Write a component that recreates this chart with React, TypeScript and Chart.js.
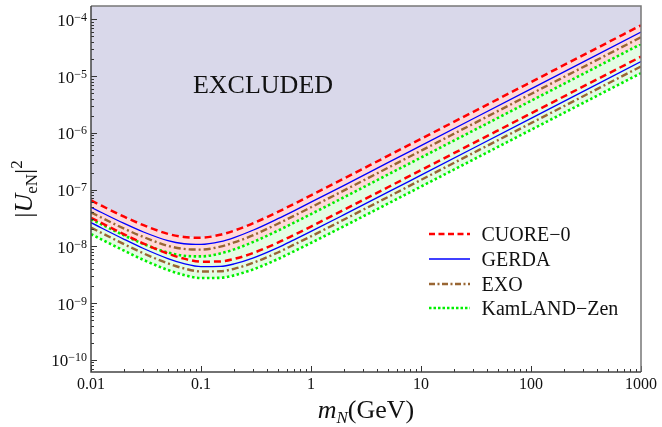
import React, { useEffect, useRef } from "react";
import { Chart, registerables } from "chart.js";

Chart.register(...registerables);

// ---- data (|U_eN|^2 bounds vs m_N in GeV) ----
const massGeV = [0.01, 0.02, 0.03, 0.05, 0.07, 0.1, 0.15, 0.2, 0.3, 0.5, 0.7, 1, 2, 5, 10, 100, 1000];

const cuoreUpper = [6.43e-8, 3.33e-8, 2.36e-8, 1.66e-8, 1.46e-8, 1.42e-8, 1.6e-8, 1.89e-8, 2.56e-8, 4.05e-8, 5.58e-8, 7.91e-8, 1.57e-7, 3.93e-7, 7.85e-7, 7.85e-6, 7.85e-5];
const cuoreLower = [3.19e-8, 1.63e-8, 1.12e-8, 7.45e-9, 6.07e-9, 5.37e-9, 5.42e-9, 5.99e-9, 7.66e-9, 1.16e-8, 1.59e-8, 2.23e-8, 4.42e-8, 1.1e-7, 2.2e-7, 2.2e-6, 2.2e-5];
const gerdaUpper = [4.88e-8, 2.53e-8, 1.79e-8, 1.26e-8, 1.11e-8, 1.08e-8, 1.21e-8, 1.43e-8, 1.94e-8, 3.07e-8, 4.23e-8, 6.0e-8, 1.19e-7, 2.98e-7, 5.96e-7, 5.96e-6, 5.96e-5];
const gerdaLower = [2.61e-8, 1.33e-8, 9.17e-9, 6.1e-9, 4.97e-9, 4.4e-9, 4.44e-9, 4.9e-9, 6.27e-9, 9.49e-9, 1.3e-8, 1.83e-8, 3.62e-8, 9.0e-8, 1.8e-7, 1.8e-6, 1.8e-5];
const exoUpper = [3.96e-8, 2.05e-8, 1.46e-8, 1.02e-8, 9.0e-9, 8.76e-9, 9.87e-9, 1.17e-8, 1.58e-8, 2.5e-8, 3.44e-8, 4.88e-8, 9.68e-8, 2.42e-7, 4.84e-7, 4.84e-6, 4.84e-5];
const exoLower = [2.14e-8, 1.09e-8, 7.52e-9, 5.0e-9, 4.08e-9, 3.61e-9, 3.64e-9, 4.02e-9, 5.14e-9, 7.79e-9, 1.07e-8, 1.5e-8, 2.97e-8, 7.39e-8, 1.48e-7, 1.48e-6, 1.48e-5];
const kamlandUpper = [3.01e-8, 1.56e-8, 1.1e-8, 7.76e-9, 6.83e-9, 6.64e-9, 7.48e-9, 8.84e-9, 1.2e-8, 1.89e-8, 2.61e-8, 3.7e-8, 7.34e-8, 1.84e-7, 3.67e-7, 3.67e-6, 3.67e-5];
const kamlandLower = [1.64e-8, 8.38e-9, 5.76e-9, 3.83e-9, 3.12e-9, 2.76e-9, 2.79e-9, 3.08e-9, 3.94e-9, 5.96e-9, 8.17e-9, 1.15e-8, 2.27e-8, 5.65e-8, 1.13e-7, 1.13e-6, 1.13e-5];

const xTickValues = [0.01, 0.1, 1, 10, 100, 1000];
const xTickLabels = ["0.01", "0.1", "1", "10", "100", "1000"];
const yTickExponents = [-10, -9, -8, -7, -6, -5, -4];
const legendNames = ["CUORE\u22120", "GERDA", "EXO", "KamLAND\u2212Zen"];
const excludedLabel = "EXCLUDED";

const X_MIN = 0.01;
const X_MAX = 1000;
const Y_MIN = 6.1e-11;
const Y_MAX = 1.72e-4;

const SERIF = '"Liberation Serif", "Times New Roman", serif';

const RED = "#ff0000";
const BLUE = "#0000ff";
const BROWN = "#996633";
const GREEN = "#00f000";

const pts = (ys: number[]) => massGeV.map((x, i) => ({ x, y: ys[i] }));

const axesPlugin = {
  id: "axesPlugin",
  afterDraw(chart: any) {
    const { ctx, chartArea: a } = chart;
    const xs = chart.scales.x;
    const ys = chart.scales.y;
    ctx.save();
    ctx.strokeStyle = "#333";
    ctx.lineWidth = 1;
    for (let e = -11; e <= -3; e++) {
      for (let k = 1; k <= 9; k++) {
        const v = k * Math.pow(10, e);
        if (v < Y_MIN || v > Y_MAX) continue;
        const py = Math.round(ys.getPixelForValue(v)) + 0.5;
        const len = k === 1 ? 6 : 3;
        ctx.beginPath();
        ctx.moveTo(a.left, py);
        ctx.lineTo(a.left + len, py);
        ctx.stroke();
      }
    }
    for (let e = -2; e <= 3; e++) {
      for (let k = 1; k <= 9; k++) {
        const v = k * Math.pow(10, e);
        if (v < X_MIN * 0.999 || v > X_MAX * 1.001) continue;
        const px = Math.round(xs.getPixelForValue(v)) + 0.5;
        const len = k === 1 ? 6 : 3;
        ctx.beginPath();
        ctx.moveTo(px, a.bottom);
        ctx.lineTo(px, a.bottom - len);
        ctx.stroke();
      }
    }
    ctx.lineWidth = 1.5;
    ctx.strokeStyle = "#777";
    ctx.beginPath();
    ctx.moveTo(a.left, a.top);
    ctx.lineTo(a.right, a.top);
    ctx.lineTo(a.right, a.bottom);
    ctx.stroke();
    ctx.strokeStyle = "#444";
    ctx.beginPath();
    ctx.moveTo(a.left, a.top);
    ctx.lineTo(a.left, a.bottom);
    ctx.lineTo(a.right, a.bottom);
    ctx.stroke();

    ctx.fillStyle = "#111";
    ctx.textBaseline = "alphabetic";
    yTickExponents.forEach((e) => {
      const py = ys.getPixelForValue(Math.pow(10, e));
      const base = "10";
      const sup = "\u2212" + Math.abs(e);
      ctx.font = `17px ${SERIF}`;
      const wb = ctx.measureText(base).width;
      ctx.font = `12px ${SERIF}`;
      const wsup = ctx.measureText(sup).width;
      const x0 = a.left - 4 - wb - wsup;
      ctx.textAlign = "left";
      ctx.font = `17px ${SERIF}`;
      ctx.fillText(base, x0, py + 6.5);
      ctx.font = `12px ${SERIF}`;
      ctx.fillText(sup, x0 + wb, py + 1.5);
    });
    ctx.font = `16px ${SERIF}`;
    ctx.textAlign = "center";
    xTickValues.forEach((v, i) => {
      const px = xs.getPixelForValue(v);
      ctx.fillText(xTickLabels[i], px, a.bottom + 17);
    });
    ctx.restore();
  },
};

const legendStyles = [
  { color: RED, width: 2.5, dash: "6 3.5" },
  { color: BLUE, width: 1.3, dash: "" },
  { color: BROWN, width: 2.4, dash: "6 2.5 2 2.5" },
  { color: GREEN, width: 2.6, dash: "2.5 2" },
];

export default function App() {
  const canvasRef = useRef<HTMLCanvasElement | null>(null);

  useEffect(() => {
    document.body.style.margin = "0";
    const canvas = canvasRef.current;
    if (!canvas) return;
    const line = (data: number[], color: string, width: number, dash: number[], extra: any = {}) => ({
      data: pts(data),
      borderColor: color,
      borderWidth: width,
      borderDash: dash,
      pointRadius: 0,
      cubicInterpolationMode: "monotone",
      fill: false,
      ...extra,
    });
    const chart = new Chart(canvas, {
      type: "line",
      data: {
        datasets: [
          line(cuoreUpper, RED, 2.5, [7, 4], { fill: "end", backgroundColor: "rgb(217,216,234)" }),
          line(cuoreLower, RED, 2.5, [7, 4], { fill: 0, backgroundColor: "rgba(255,0,0,0.15)" }),
          line(gerdaUpper, BLUE, 1.3, []),
          line(gerdaLower, BLUE, 1.3, []),
          line(exoUpper, BROWN, 2.4, [7, 3, 2, 3]),
          line(exoLower, BROWN, 2.4, [7, 3, 2, 3]),
          line(kamlandUpper, GREEN, 2.6, [2.5, 2.5]),
          line(kamlandLower, GREEN, 2.6, [2.5, 2.5], {
            fill: 6,
            backgroundColor: "rgb(228,252,228)",
            order: -1,
          }),
        ] as any,
      },
      options: {
        responsive: false,
        animation: false,
        devicePixelRatio: 1,
        layout: { padding: { top: 6, right: 21, left: 0, bottom: 0 } },
        plugins: {
          legend: { display: false },
          tooltip: { enabled: false },
          filler: { drawTime: "beforeDatasetsDraw" },
        },
        scales: {
          x: {
            type: "logarithmic",
            min: X_MIN,
            max: X_MAX,
            bounds: "data",
            grid: { display: false },
            border: { display: false },
            ticks: { display: false },
            afterFit(s: any) {
              s.height = 55;
            },
          },
          y: {
            type: "logarithmic",
            min: Y_MIN,
            max: Y_MAX,
            bounds: "data",
            grid: { display: false },
            border: { display: false },
            ticks: { display: false },
            afterFit(s: any) {
              s.width = 91;
            },
          },
        },
      } as any,
      plugins: [axesPlugin],
    });
    return () => chart.destroy();
  }, []);

  const legendBaselines = [240.7, 265.5, 290.3, 315];

  return (
    <div style={{ position: "relative", width: 662, height: 427, fontFamily: SERIF, color: "#111" }}>
      <canvas ref={canvasRef} width={662} height={427} style={{ display: "block" }} />
      <div
        style={{
          position: "absolute",
          left: 263,
          top: 72,
          transform: "translateX(-50%)",
          fontSize: 26,
          lineHeight: "26px",
          whiteSpace: "nowrap",
        }}
      >
        {excludedLabel}
      </div>
      {legendNames.map((name, i) => (
        <React.Fragment key={name}>
          <svg
            style={{ position: "absolute", left: 429, top: legendBaselines[i] - 6.8 - 4 }}
            width={41}
            height={8}
          >
            <line
              x1={0}
              y1={4}
              x2={41}
              y2={4}
              stroke={legendStyles[i].color}
              strokeWidth={legendStyles[i].width}
              strokeDasharray={legendStyles[i].dash || undefined}
            />
          </svg>
          <div
            style={{
              position: "absolute",
              left: 481.5,
              top: legendBaselines[i] - 16.75,
              fontSize: 20,
              lineHeight: "20px",
              whiteSpace: "nowrap",
            }}
          >
            {name}
          </div>
        </React.Fragment>
      ))}
      <div
        style={{
          position: "absolute",
          left: 366,
          top: 396.7,
          transform: "translateX(-50%)",
          fontSize: 26,
          lineHeight: "26px",
          whiteSpace: "nowrap",
        }}
      >
        <i>m</i>
        <sub style={{ fontSize: 17, verticalAlign: "-5px", lineHeight: 0 }}>
          <i>N</i>
        </sub>
        (GeV)
      </div>
      <div
        style={{
          position: "absolute",
          left: 24,
          top: 189,
          width: 200,
          height: 30,
          marginLeft: -100,
          marginTop: -15,
          transform: "rotate(-90deg)",
          textAlign: "center",
          fontSize: 26,
          lineHeight: "30px",
          whiteSpace: "nowrap",
        }}
      >
        |<i>U</i>
        <sub style={{ fontSize: 17, verticalAlign: "-5px", lineHeight: 0 }}>eN</sub>|
        <sup style={{ fontSize: 17, verticalAlign: "10px", lineHeight: 0 }}>2</sup>
      </div>
    </div>
  );
}
